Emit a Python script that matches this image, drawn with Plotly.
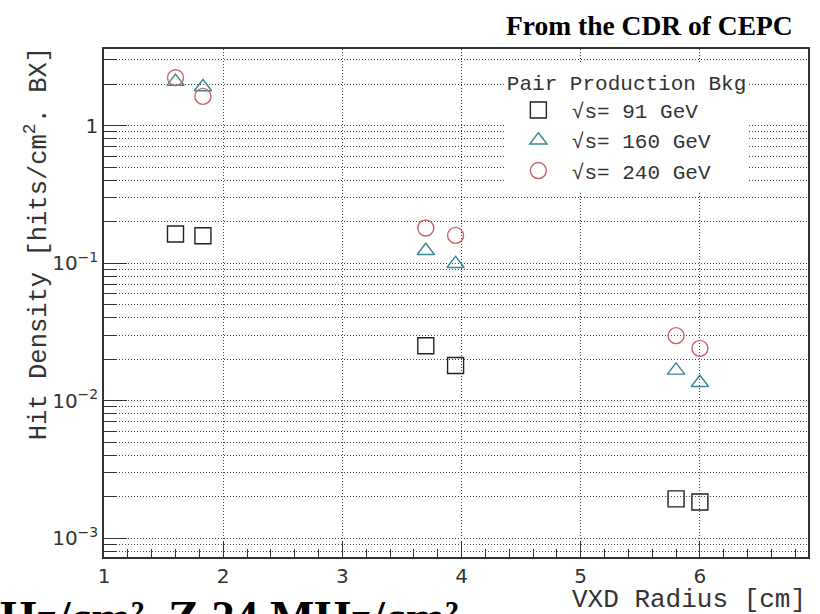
import plotly.graph_objects as go

# ---- data ----
radius_cm = [1.60, 1.83, 3.70, 3.95, 5.80, 6.00]
density_91 = [0.163, 0.158, 0.0251, 0.0180, 0.00193, 0.00183]
density_160 = [2.09, 1.91, 0.123, 0.0989, 0.0166, 0.0135]
density_240 = [2.23, 1.63, 0.180, 0.159, 0.0297, 0.0240]

series_names = ["√s= 91 GeV", "√s= 160 GeV", "√s= 240 GeV"]
x_tick_vals = [1, 2, 3, 4, 5, 6]
y_tick_vals = [1e-3, 1e-2, 1e-1, 1]
y_tick_text = ["10<sup>−3</sup>", "10<sup>−2</sup>", "10<sup>−1</sup>", "1"]

mono = "Liberation Mono, Courier New, monospace"
sans = "DejaVu Sans, Liberation Sans, sans-serif"
serif = "Liberation Serif, Times New Roman, serif"

fig = go.Figure()
styles = [
    dict(symbol="square-open", color="#222222", size=16),
    dict(symbol="triangle-up-open", color="#3a8799", size=15),
    dict(symbol="circle-open", color="#d0606a", size=16),
]
for name, yv, st in zip(series_names, [density_91, density_160, density_240], styles):
    fig.add_trace(go.Scatter(
        x=radius_cm, y=yv, mode="markers", name=name,
        marker=dict(symbol=st["symbol"], size=st["size"], color=st["color"],
                    line=dict(width=1.4, color=st["color"])),
    ))

minor_y = [m * 10.0 ** e for e in range(-4, 1) for m in range(2, 10)]
minor_x = [1 + 0.2 * i for i in range(0, 31)]

fig.update_layout(
    width=820, height=614,
    margin=dict(l=104, r=10, t=49, b=57),
    paper_bgcolor="white", plot_bgcolor="white",
    showlegend=True,
    legend=dict(
        x=(506 - 104) / 706, y=(557 - 62.5) / 508, xanchor="left", yanchor="top",
        bgcolor="white", borderwidth=0,
        font=dict(family=mono, size=21, color="#333333"),
        title=dict(text="Pair Production Bkg", font=dict(family=mono, size=21, color="#333333")),
        itemwidth=57,
    ),
    xaxis=dict(
        range=[1, 6.907], tickmode="array", tickvals=x_tick_vals,
        ticks="inside", ticklen=16, tickwidth=1.2, tickcolor="#333333",
        showline=True, linecolor="#333333", linewidth=1.5, mirror=True,
        showgrid=True, gridcolor="#444444", gridwidth=1, griddash="1px,2px",
        zeroline=False,
        tickfont=dict(family=sans, size=20, color="#333333"),
        minor=dict(tickmode="array", tickvals=minor_x, ticks="inside", ticklen=8,
                   tickwidth=1.2, tickcolor="#333333", showgrid=False),
    ),
    yaxis=dict(
        type="log", range=[-3.137, 0.557], tickmode="array",
        tickvals=y_tick_vals, ticktext=y_tick_text,
        ticks="inside", ticklen=23, tickwidth=1.2, tickcolor="#333333",
        showline=True, linecolor="#333333", linewidth=1.5, mirror=True,
        showgrid=True, gridcolor="#444444", gridwidth=1, griddash="1px,2px",
        zeroline=False,
        tickfont=dict(family=sans, size=20, color="#333333"),
        minor=dict(tickmode="array", tickvals=minor_y, ticks="inside", ticklen=12,
                   tickwidth=1.2, tickcolor="#333333", showgrid=True,
                   gridcolor="#444444", gridwidth=1, griddash="1px,2px"),
    ),
)

fig.add_annotation(
    text="VXD Radius [cm]", xref="paper", yref="paper",
    x=1.0, y=(557 - 600) / 508, xanchor="right", yanchor="middle",
    showarrow=False, font=dict(family=mono, size=26, color="#333333"),
)
fig.add_annotation(
    text="Hit Density [hits/cm<sup>2</sup>. BX]", xref="paper", yref="paper",
    x=(37 - 104) / 706, y=(557 - 244) / 508, xanchor="center", yanchor="middle",
    textangle=-90, showarrow=False, font=dict(family=mono, size=25.5, color="#333333"),
)
fig.add_annotation(
    text="<b>From the CDR of CEPC</b>", xref="paper", yref="paper",
    x=(797 - 104) / 706, y=(557 - 25) / 508, xanchor="right", yanchor="middle",
    showarrow=False, font=dict(family=serif, size=27.5, color="black"),
)
fig.add_annotation(
    text="<b>Hz/cm², Z 24 MHz/cm²</b>", xref="paper", yref="paper",
    x=(-2 - 104) / 706, y=(557 - 589) / 508, xanchor="left", yanchor="top",
    showarrow=False, font=dict(family=serif, size=47, color="black"),
)

fig.write_html("out.html", post_script="document.body.style.margin='0px';",
               config={"displayModeBar": False})
